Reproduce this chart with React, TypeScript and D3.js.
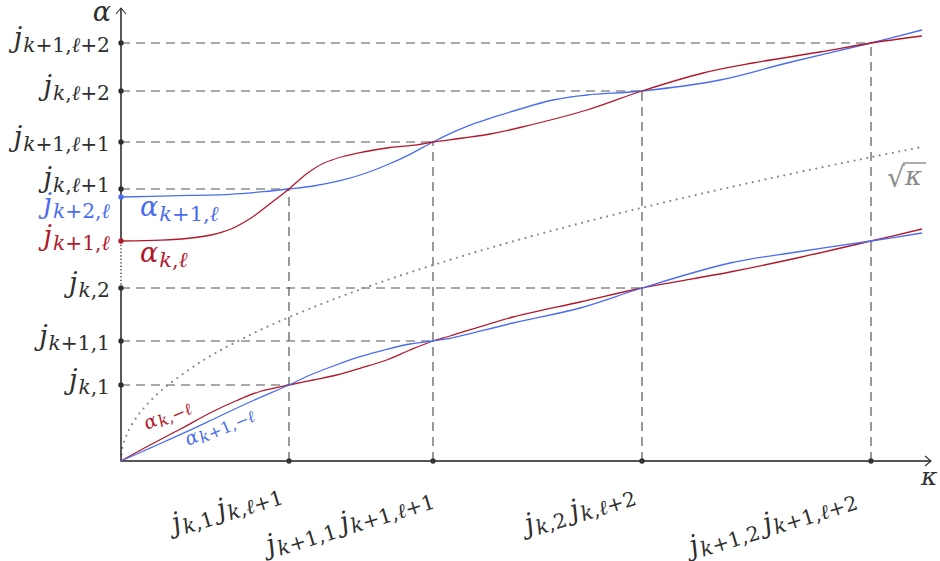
import React from 'react';
import * as d3 from 'd3';

// ---------- data (chart units) ----------
const X_MAX = 81;
const Y_MAX = 45.3;

// crossing abscissae on the kappa axis
const xTickValues = [16.8, 31.2, 52.1, 75.0];
// upper level reached by each vertical dashed line
const xTickTop = [27.2, 31.9, 37.0, 41.8];
const xTickLabels = [
  [{ base: 'j', sub: 'k,1' }, { base: 'j', sub: 'k,ℓ+1' }],
  [{ base: 'j', sub: 'k+1,1' }, { base: 'j', sub: 'k+1,ℓ+1' }],
  [{ base: 'j', sub: 'k,2' }, { base: 'j', sub: 'k,ℓ+2' }],
  [{ base: 'j', sub: 'k+1,2' }, { base: 'j', sub: 'k+1,ℓ+2' }],
];

const yTickValues = [7.6, 12.0, 17.3, 22.0, 26.4, 27.2, 31.9, 37.0, 41.8];
const yTickSubs = ['k,1', 'k+1,1', 'k,2', 'k+1,ℓ', 'k+2,ℓ', 'k,ℓ+1', 'k+1,ℓ+1', 'k,ℓ+2', 'k+1,ℓ+2'];
const yTickSeries = ['', '', '', 'red', 'blue', '', '', '', ''];
// where each horizontal dashed line ends (kappa value), null = none
const yTickDashTo: (number | null)[] = [16.8, 31.2, 52.1, null, null, 16.8, 31.2, 52.1, 75.0];

// alpha_{k,l}
const redUpper: [number, number][] = [
  [0, 22.0], [4, 22.08], [7, 22.3], [9, 22.6], [11, 23.2], [13, 24.3], [15, 25.8], [16.8, 27.2],
  [18.6, 28.75], [20.2, 29.75], [22.2, 30.45], [24.2, 30.9], [26.9, 31.35], [29.6, 31.62],
  [31.2, 31.9], [34.23, 32.3], [36.9, 32.7], [39.9, 33.35], [46.6, 35.1], [52.1, 37.0],
  [58.2, 38.8], [63.2, 39.8], [69.9, 40.9], [75.0, 41.8], [80.1, 42.5],
];
// alpha_{k+1,l}
const blueUpper: [number, number][] = [
  [0, 26.4], [5, 26.52], [10.9, 26.67], [14.23, 26.93], [16.8, 27.2], [19.23, 27.5], [21.9, 28.03],
  [24.23, 28.7], [26.57, 29.6], [28.9, 30.67], [31.2, 31.9], [33.57, 33.03], [35.57, 33.83],
  [36.9, 34.27], [43.2, 36.1], [46.6, 36.6], [52.1, 37.0], [59.9, 38.1], [66.6, 39.8],
  [75.0, 41.8], [80.1, 43.1],
];
// alpha_{k,-l}
const redLower: [number, number][] = [
  [0, 0], [2.9, 1.6], [5.9, 3.17], [8.9, 4.8], [11.57, 6.05], [13.9, 6.95], [16.8, 7.6],
  [19.23, 8.1], [21.57, 8.6], [23.9, 9.27], [26.57, 10.1], [28.9, 11.1], [31.2, 12.0],
  [32.9, 12.5], [39.2, 14.4], [45.9, 15.9], [52.1, 17.3], [60.9, 18.9], [67.6, 20.3],
  [75.0, 22.0], [80.1, 23.2],
];
// alpha_{k+1,-l}
const blueLower: [number, number][] = [
  [0, 0], [3.23, 1.43], [6.57, 2.93], [9.9, 4.5], [13.23, 6.05], [16.8, 7.6], [18.57, 8.45],
  [21.23, 9.5], [23.9, 10.43], [26.57, 11.17], [28.9, 11.7], [31.2, 12.0], [32.9, 12.27],
  [39.2, 13.8], [45.9, 15.3], [52.1, 17.3], [60.9, 19.8], [67.6, 20.9], [75.0, 22.0], [80.1, 22.8],
];
// sqrt(kappa), dotted
const sqrtCurve: [number, number][] = [
  [0, 0], [0.1, 1.11], [0.25, 1.75], [0.5, 2.48], [1, 3.51], [2, 4.96], [4, 7.02],
  [8, 9.92], [12, 12.15], [16.8, 14.38], [25, 17.54], [35, 20.75], [45, 23.53],
  [55, 26.02], [65, 28.28], [75, 30.38], [80.1, 31.4],
];

// ---------- style ----------
const RED = '#b2182b';
const BLUE = '#4a6cf2';
const INK = '#2e2e2e';
const DASH = '#555';
const DOTC = '#8a8a8a';
const FONT = '"DejaVu Serif", serif';
const MAIN = 27;
const SUB = 0.75;

const X_LABEL_LAYOUT = [
  { dx: -62, cy: 509 },
  { dx: -83, cy: 522 },
  { dx: -62, cy: 510 },
  { dx: -98, cy: 523 },
];
// vertical nudges of the two crowded y labels
const Y_LABEL_NUDGE = [0, 0, 0, 0, 12, -6, 0, 0, 0];

type Term = { base: string; sub: string };

function splitRuns(s: string) {
  const runs: { text: string; it: boolean }[] = [];
  for (const ch of s) {
    const it = /[a-zℓ]/.test(ch);
    const last = runs[runs.length - 1];
    if (last && last.it === it) last.text += ch;
    else runs.push({ text: ch, it });
  }
  return runs;
}

function mathSpans(terms: Term[], size: number, key: string, subRatio = SUB) {
  const subSize = size * subRatio;
  const shift = size * 0.17;
  const out: React.ReactNode[] = [];
  terms.forEach((t, i) => {
    out.push(
      <tspan key={`${key}-b${i}`} style={{ fontStyle: 'italic', fontSize: size }}
        dy={i > 0 ? -shift : 0} dx={i > 0 ? size * 0.22 : 0}>{t.base}</tspan>
    );
    splitRuns(t.sub).forEach((r, j) => {
      out.push(
        <tspan key={`${key}-s${i}-${j}`} style={{ fontSize: subSize, fontStyle: r.it ? 'italic' : 'normal' }}
          dy={j === 0 ? shift : 0} dx={j === 0 ? 1 : 0}>{r.text}</tspan>
      );
    });
  });
  return out;
}

export default function App() {
  const x = d3.scaleLinear().domain([0, X_MAX]).range([121, 931]);
  const y = d3.scaleLinear().domain([0, Y_MAX]).range([461, 8]);
  const line = d3.line<[number, number]>().x(d => x(d[0])).y(d => y(d[1])).curve(d3.curveCatmullRom.alpha(0.5));
  const colorOf = (s: string) => (s === 'red' ? RED : s === 'blue' ? BLUE : INK);

  const dashGapLow = yTickValues[2];
  const dashGapHigh = yTickValues[3];
  const ts = { fontFamily: FONT };

  return (
    <svg width={940} height={561} style={{ position: 'absolute', left: 0, top: 0, background: '#fff', fontFamily: FONT }}>
      {/* dashed guide lines */}
      {yTickValues.map((v, i) => yTickDashTo[i] == null ? null : (
        <line key={`hd${i}`} x1={x(0)} x2={x(yTickDashTo[i] as number)} y1={y(v)} y2={y(v)}
          stroke={DASH} strokeWidth={1.2} strokeDasharray="9 6" />
      ))}
      {xTickValues.map((v, i) => (
        <line key={`vd${i}`} x1={x(v)} x2={x(v)} y1={y(0)} y2={y(xTickTop[i])}
          stroke={DASH} strokeWidth={1.2} strokeDasharray="9 6" />
      ))}

      {/* sqrt curve */}
      <path d={line(sqrtCurve) || ''} fill="none" stroke={DOTC} strokeWidth={2.2}
        strokeDasharray="0 6.5" strokeLinecap="round" />

      {/* axes */}
      <line x1={x(0)} x2={x(X_MAX)} y1={y(0)} y2={y(0)} stroke="#555" strokeWidth={1.8} />
      <path d={`M${x(X_MAX) - 6},${y(0) - 5} L${x(X_MAX)},${y(0)} L${x(X_MAX) - 6},${y(0) + 5}`}
        fill="none" stroke="#333" strokeWidth={1.1} />
      <line x1={x(0)} x2={x(0)} y1={y(0)} y2={y(dashGapLow)} stroke="#222" strokeWidth={1.5} />
      <line x1={x(0)} x2={x(0)} y1={y(dashGapLow)} y2={y(dashGapHigh)} stroke="#222" strokeWidth={1.3}
        strokeDasharray="1.3 2.2" />
      <line x1={x(0)} x2={x(0)} y1={y(dashGapHigh)} y2={y(Y_MAX)} stroke="#222" strokeWidth={1.5} />
      <path d={`M${x(0) - 5},${y(Y_MAX) + 6} L${x(0)},${y(Y_MAX)} L${x(0) + 5},${y(Y_MAX) + 6}`}
        fill="none" stroke="#333" strokeWidth={1.1} />

      {/* curves */}
      <path d={line(redLower) || ''} fill="none" stroke={RED} strokeWidth={1.3} />
      <path d={line(blueLower) || ''} fill="none" stroke={BLUE} strokeWidth={1.3} />
      <path d={line(blueUpper) || ''} fill="none" stroke={BLUE} strokeWidth={1.3} />
      <path d={line(redUpper) || ''} fill="none" stroke={RED} strokeWidth={1.3} />

      {/* tick dots */}
      {yTickValues.map((v, i) => (
        <circle key={`yd${i}`} cx={x(0)} cy={y(v)} r={2.7} fill={colorOf(yTickSeries[i])} />
      ))}
      {xTickValues.map((v, i) => (
        <circle key={`xd${i}`} cx={x(v)} cy={y(0)} r={2.7} fill="#333" />
      ))}

      {/* y tick labels */}
      {yTickValues.map((v, i) => (
        <text key={`yl${i}`} x={110} y={y(v) + 4 + Y_LABEL_NUDGE[i]} textAnchor="end" fill={colorOf(yTickSeries[i])} style={ts}>
          {mathSpans([{ base: 'j', sub: yTickSubs[i] }], MAIN, `y${i}`)}
        </text>
      ))}

      {/* x tick labels */}
      {xTickValues.map((v, i) => (
        <g key={`xl${i}`} transform={`translate(${x(v) + X_LABEL_LAYOUT[i].dx},${X_LABEL_LAYOUT[i].cy}) rotate(-17)`}>
          <text x={0} y={7} textAnchor="middle" fill={INK} style={ts}>
            {mathSpans(xTickLabels[i], MAIN, `x${i}`)}
          </text>
        </g>
      ))}

      {/* axis labels */}
      <text x={111} y={21} textAnchor="end" fill={INK} style={{ ...ts, fontStyle: 'italic', fontSize: MAIN }}>α</text>
      <text x={921} y={485} fill={INK} style={{ ...ts, fontStyle: 'italic', fontSize: 25 }}>κ</text>

      {/* curve labels */}
      <text x={140} y={216} fill={BLUE} style={ts}>
        {mathSpans([{ base: 'α', sub: 'k+1,ℓ' }], MAIN, 'lb', 0.78)}
      </text>
      <text x={140} y={262} fill={RED} style={ts}>
        {mathSpans([{ base: 'α', sub: 'k,ℓ' }], MAIN, 'lr', 0.78)}
      </text>
      <g transform="translate(147,430) rotate(-24)">
        <text x={0} y={0} fill={RED} style={ts}>{mathSpans([{ base: 'α', sub: 'k,−ℓ' }], 19, 'sr', 0.85)}</text>
      </g>
      <g transform="translate(188,446) rotate(-23)">
        <text x={0} y={0} fill={BLUE} style={ts}>{mathSpans([{ base: 'α', sub: 'k+1,−ℓ' }], 19, 'sb', 0.85)}</text>
      </g>

      {/* sqrt kappa label */}
      <text x={887} y={187} fill={DOTC} style={{ ...ts, fontSize: 28 }}>√</text>
      <line x1={903} x2={926} y1={163} y2={163} stroke={DOTC} strokeWidth={1.4} />
      <text x={905} y={185} fill={DOTC} style={{ ...ts, fontSize: 26, fontStyle: 'italic' }}>κ</text>
    </svg>
  );
}
